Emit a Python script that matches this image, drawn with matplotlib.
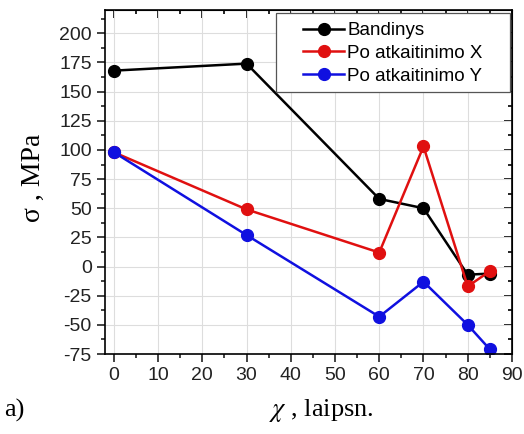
import matplotlib.pyplot as plt
from matplotlib.ticker import MultipleLocator
from matplotlib.patches import Rectangle

plt.rcParams['axes.unicode_minus'] = False
plt.rcParams['mathtext.fontset'] = 'stix'

# kampas, laipsniais
chi = [0, 30, 60, 70, 80, 85]
bandinys = [168, 174, 58, 50, -7, -6]
atkait_x = [98, 49, 12, 103, -17, -4]
atkait_y = [98, 27, -43, -13, -50, -71]

labels = ['Bandinys', 'Po atkaitinimo X', 'Po atkaitinimo Y']
colors = ['black', '#e01010', '#1010e0']

fig = plt.figure(figsize=(5.24, 4.34), dpi=100)
ax = fig.add_axes([0.2004, 0.1843, 0.7766, 0.7927])

for y, lab, c in zip([bandinys, atkait_x, atkait_y], labels, colors):
    ax.plot(chi, y, '-o', color=c, lw=1.8, ms=8.5, label=lab)

ax.set_xlim(-2, 90)
ax.set_ylim(-75, 220)
ax.xaxis.set_major_locator(MultipleLocator(10))
ax.xaxis.set_minor_locator(MultipleLocator(5))
ax.yaxis.set_minor_locator(MultipleLocator(12.5))
ax.set_yticks(range(-75, 201, 25))
ax.grid(True, which='major', color='#dddddd', lw=0.8)
ax.set_axisbelow(True)

ax.tick_params(which='both', direction='out', top=False, right=False,
               labelsize=14, width=1.2, colors='#222222')
ax.tick_params(which='major', length=6)
ax.tick_params(which='minor', length=3)
for lab in ax.get_xticklabels() + ax.get_yticklabels():
    lab.set_family('Liberation Sans')

# vidinės žymės viršuje ir dešinėje
ax2 = ax.secondary_xaxis('top')
ax2.xaxis.set_major_locator(MultipleLocator(10))
ax2.xaxis.set_minor_locator(MultipleLocator(5))
ax2.tick_params(which='both', direction='in', labeltop=False, width=1.2)
ax2.tick_params(which='major', length=6)
ax2.tick_params(which='minor', length=3)
ax3 = ax.secondary_yaxis('right')
ax3.yaxis.set_major_locator(MultipleLocator(25))
ax3.yaxis.set_minor_locator(MultipleLocator(12.5))
ax3.tick_params(which='both', direction='in', labelright=False, width=1.2)
ax3.tick_params(which='major', length=6)
ax3.tick_params(which='minor', length=3)

for s in ax.spines.values():
    s.set_linewidth(1.2)

# legendos rėmelis kaip Origin
ax.add_patch(Rectangle((0.42, 0.762), 0.575, 0.228, transform=ax.transAxes,
                       facecolor='white', edgecolor='#555555', lw=0.9, zorder=4))
leg = ax.legend(loc='center', bbox_to_anchor=(0.7075, 0.874), frameon=False,
                handlelength=2.2, handletextpad=0.15, labelspacing=0.3,
                borderpad=0.0, prop={'family': 'Liberation Sans', 'size': 13.5})
leg.set_zorder(5)

fig.text(0.063, 0.59, 'σ , MPa', rotation=90, ha='center', va='center',
         family='Liberation Serif', fontsize=20)
fig.text(0.613, 0.055, r'$\chi$ , laipsn.', ha='center', va='center',
         family='Liberation Serif', fontsize=19)
fig.text(0.008, 0.055, 'a)', ha='left', va='center',
         family='Liberation Serif', fontsize=19)

fig.savefig('out.png', dpi=100)
